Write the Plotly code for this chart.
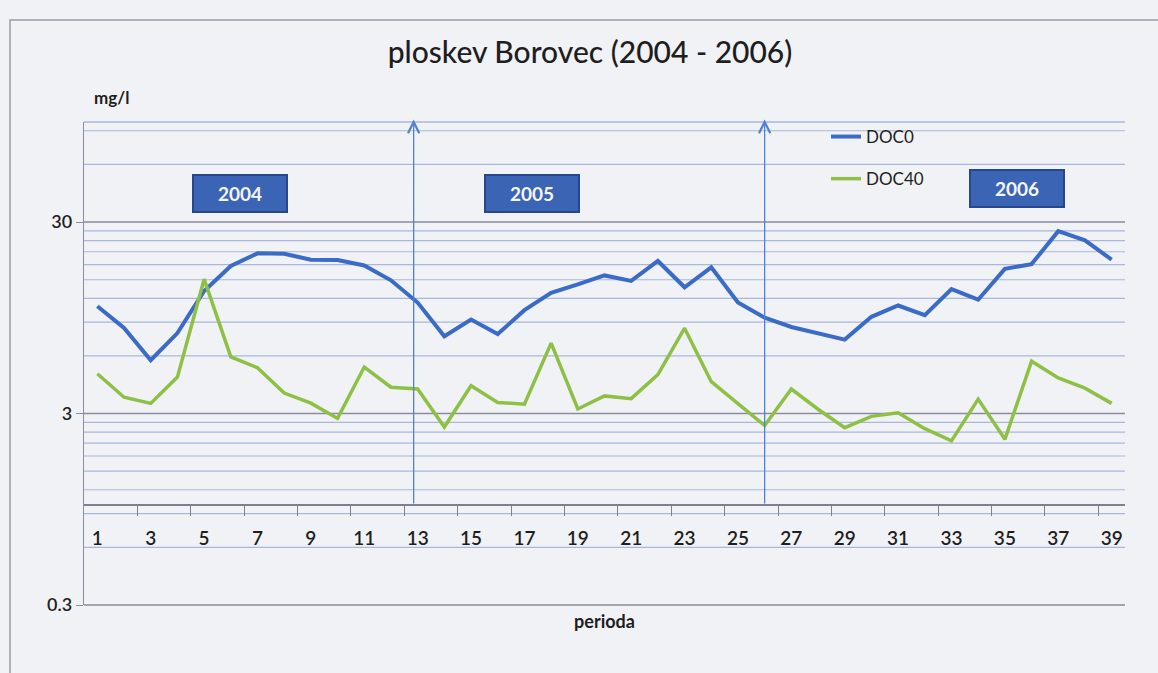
import math
import plotly.graph_objects as go

# DOC concentrations (mg/l) per sampling period, Borovec plot 2004-2006
periods = list(range(1, 40))
doc0 = [10.9, 8.4, 5.7, 7.9, 13.1, 17.7, 20.6, 20.5, 19.1, 19.0,
        17.8, 14.9, 11.4, 7.6, 9.3, 7.8, 10.4, 12.8, 14.2, 15.8,
        14.8, 18.8, 13.7, 17.4, 11.4, 9.5, 8.5, 7.9, 7.3, 9.6,
        11.0, 9.8, 13.4, 11.8, 17.1, 18.1, 26.9, 24.1, 19.1]
doc40 = [4.84, 3.65, 3.39, 4.65, 15.1, 5.93, 5.2, 3.84, 3.4, 2.83,
         5.25, 4.12, 4.03, 2.55, 4.19, 3.43, 3.36, 7.0, 3.17, 3.71,
         3.59, 4.79, 8.37, 4.4, 3.38, 2.6, 4.03, 3.16, 2.53, 2.9,
         3.03, 2.5, 2.16, 3.57, 2.2, 5.63, 4.6, 4.07, 3.39]

# y axis (log) scale
y_min, y_max = 0.3, 100
y_major = [0.3, 3, 30]
y_major_text = ["0.3", "3", "30"]
y_minor = [b * k for b in (0.3, 3, 30) for k in range(2, 10) if b * k < y_max]
x_cross = 1  # horizontal axis crosses the value axis here

# x axis labels every second period, ticks between categories
x_labels = periods[::2]
x_ticks = [p + 0.5 for p in periods[1:-1:2]]

# year markers: split positions and captions
year_splits = [12.85, 26.0]
years = ["2004", "2005", "2006"]
year_pos = [(6.36, 42.5), (17.3, 42.5), (35.46, 45.0)]

W, H = 1158, 673
L, R, T, B = 84, 33, 122, 68
plot_w, plot_h = W - L - R, H - T - B

FONT = "Lato, 'Open Sans', sans-serif"
TXT = "#1e1e1e"
MAJOR = "#8a8aa2"
MINOR = "#a9b6de"
BG = "#f1f2f5"

lmin, lmax = math.log10(y_min), math.log10(y_max)


def frac(v):
    """Position of value v on the log value axis, as a plot-area fraction."""
    return (math.log10(v) - lmin) / (lmax - lmin)


cross_pos = frac(x_cross)

fig = go.Figure()
fig.add_trace(go.Scatter(x=periods, y=doc0, mode="lines", name="DOC0",
                         line=dict(color="#3a6bc6", width=4),
                         legendgroup="a"))
fig.add_trace(go.Scatter(x=periods, y=doc40, mode="lines", name="DOC40",
                         line=dict(color="#8dc044", width=3.5),
                         legendgroup="b"))

shapes = [
    # chart frame
    dict(type="rect", xref="paper", yref="paper",
         x0=(10 - L) / plot_w, x1=(W + 10 - L) / plot_w,
         y0=-(B + 20) / plot_h, y1=1 + (T - 20) / plot_h,
         line=dict(color="#9a9aaa", width=1.5), layer="below"),
    # top edge of plot area
    dict(type="line", xref="paper", yref="paper", x0=0, x1=1, y0=1, y1=1,
         line=dict(color=MINOR, width=1.3), layer="below"),
]
# value-axis gridlines (minor first, majors on top)
for v in y_minor:
    shapes.append(dict(type="line", xref="paper", yref="paper",
                       x0=0, x1=1, y0=frac(v), y1=frac(v),
                       line=dict(color=MINOR, width=1.2), layer="below"))
for v in y_major:
    shapes.append(dict(type="line", xref="paper", yref="paper",
                       x0=0, x1=1, y0=frac(v), y1=frac(v),
                       line=dict(color=MAJOR, width=1.5), layer="below"))

annotations = []
for xs in year_splits:
    annotations.append(dict(
        x=xs, y=math.log10(103), ax=xs, ay=math.log10(x_cross),
        xref="x", yref="y", axref="x", ayref="y", text="",
        showarrow=True, arrowhead=5, arrowsize=1.7, arrowwidth=1.3,
        arrowcolor="#4d82d6"))
for yr, (xp, yp) in zip(years, year_pos):
    annotations.append(dict(
        x=xp, y=math.log10(yp), xref="x", yref="y", text=f"<b>{yr}</b>",
        showarrow=False, font=dict(family=FONT, size=19, color="#f4f6fb"),
        bgcolor="#3c64b4", bordercolor="#27478c", borderwidth=2,
        width=90, height=33))
annotations.append(dict(
    x=(92 - L) / plot_w, y=1 + (T - 97) / plot_h, xref="paper", yref="paper",
    xanchor="left", yanchor="middle", text="<b>mg/l</b>", showarrow=False,
    font=dict(family=FONT, size=17, color=TXT)))

fig.update_layout(
    width=W, height=H,
    margin=dict(l=L, r=R, t=T, b=B, autoexpand=False),
    paper_bgcolor=BG, plot_bgcolor=BG,
    title=dict(text="ploskev Borovec (2004 - 2006)", x=590 / W,
               xanchor="center", y=1 - 52 / H, yanchor="middle",
               font=dict(family=FONT, size=30, color=TXT, weight=500)),
    showlegend=True,
    legend=dict(x=(826 - L) / plot_w, y=1 + (T - 119) / plot_h,
                xanchor="left", yanchor="top", bgcolor="rgba(0,0,0,0)",
                traceorder="grouped", tracegroupgap=17,
                font=dict(family=FONT, size=17, color=TXT)),
    xaxis=dict(
        range=[0.5, 39.5], anchor="free", position=cross_pos,
        showline=True, linecolor="#7f7f92", linewidth=1.6,
        showgrid=False, zeroline=False,
        tickmode="array", tickvals=x_labels,
        ticktext=[str(v) for v in x_labels], ticks="",
        ticklabelstandoff=17,
        tickfont=dict(family=FONT, size=19, color=TXT, weight=600),
        minor=dict(tickvals=x_ticks, ticks="outside", ticklen=10,
                   tickcolor="#7f7f92", tickwidth=1.2, showgrid=False),
        title=dict(text="<b>perioda</b>", standoff=66,
                   font=dict(family=FONT, size=18, color=TXT)),
        automargin=False,
    ),
    yaxis=dict(
        type="log", range=[lmin, lmax],
        showline=True, linecolor="#8c8ca0", linewidth=1.3,
        tickmode="array", tickvals=y_major, ticktext=y_major_text,
        ticks="outside", ticklen=7, tickcolor=MAJOR,
        showgrid=False, zeroline=False,
        tickfont=dict(family=FONT, size=18, color=TXT, weight=600),
        automargin=False,
    ),
    shapes=shapes,
    annotations=annotations,
)

fig.write_html("out.html")
